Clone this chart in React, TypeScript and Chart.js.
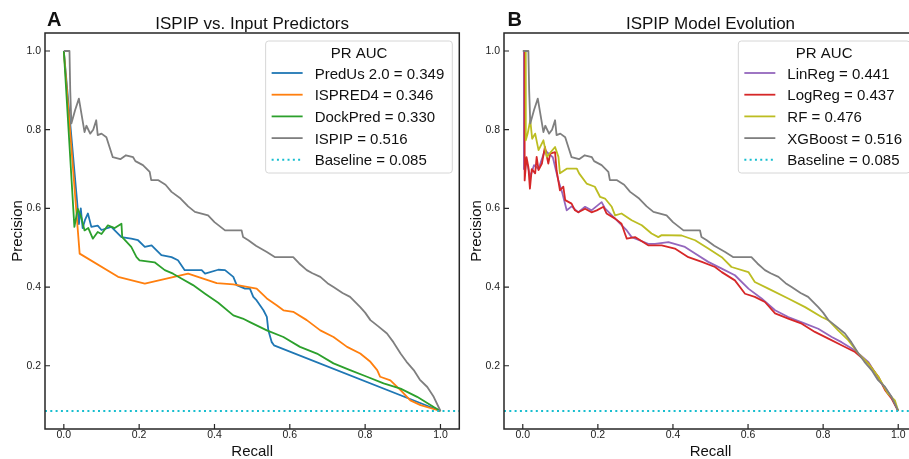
import React, { useEffect, useRef } from 'react';
import { Chart, registerables } from 'chart.js';

Chart.register(...registerables);

// ---------- axes ----------
const X_MIN = -0.05;
const X_MAX = 1.05;
const Y_MIN = 0.03925;
const Y_MAX = 1.04575;
const X_TICKS = [0, 0.2, 0.4, 0.6, 0.8, 1.0];
const Y_TICKS = [0.2, 0.4, 0.6, 0.8, 1.0];
const BASELINE = 0.085;

// ---------- panel A ----------
const predusRecall = [0, 0.035, 0.04, 0.045, 0.05, 0.056, 0.064, 0.073, 0.09, 0.1, 0.126, 0.153, 0.179, 0.197, 0.215, 0.233, 0.259, 0.286, 0.303, 0.321, 0.366, 0.375, 0.41, 0.428, 0.45, 0.459, 0.481, 0.494, 0.503, 0.512, 0.53, 0.539, 0.543, 0.552, 0.558, 1.0];
const predusPrecision = [1.0, 0.62, 0.56, 0.6, 0.55, 0.57, 0.587, 0.553, 0.556, 0.545, 0.553, 0.527, 0.523, 0.519, 0.502, 0.506, 0.481, 0.476, 0.468, 0.443, 0.443, 0.434, 0.444, 0.443, 0.426, 0.405, 0.396, 0.396, 0.375, 0.366, 0.341, 0.324, 0.29, 0.26, 0.252, 0.085];

const ispredRecall = [0, 0.042, 0.144, 0.215, 0.33, 0.406, 0.45, 0.512, 0.521, 0.539, 0.565, 0.583, 0.609, 0.645, 0.681, 0.716, 0.752, 0.787, 0.814, 0.832, 0.84, 0.867, 0.894, 0.92, 0.947, 1.0];
const ispredPrecision = [1.0, 0.485, 0.426, 0.409, 0.434, 0.41, 0.407, 0.396, 0.388, 0.371, 0.354, 0.341, 0.337, 0.316, 0.29, 0.273, 0.248, 0.231, 0.21, 0.189, 0.172, 0.163, 0.138, 0.112, 0.1, 0.085];

const dockRecall = [0, 0.028, 0.037, 0.046, 0.055, 0.065, 0.077, 0.09, 0.1, 0.117, 0.135, 0.153, 0.155, 0.179, 0.193, 0.201, 0.241, 0.268, 0.29, 0.312, 0.343, 0.375, 0.41, 0.45, 0.475, 0.494, 0.539, 0.583, 0.627, 0.672, 0.716, 0.76, 0.805, 0.849, 0.894, 0.938, 0.982, 1.0];
const dockPrecision = [1.0, 0.553, 0.599, 0.578, 0.544, 0.55, 0.523, 0.54, 0.535, 0.557, 0.55, 0.561, 0.527, 0.502, 0.476, 0.468, 0.463, 0.443, 0.434, 0.422, 0.405, 0.383, 0.36, 0.328, 0.32, 0.311, 0.29, 0.273, 0.248, 0.231, 0.206, 0.189, 0.172, 0.155, 0.142, 0.121, 0.095, 0.085];

const ispipRecall = [0, 0.015, 0.017, 0.02, 0.03, 0.04, 0.055, 0.06, 0.07, 0.078, 0.086, 0.09, 0.1, 0.113, 0.13, 0.15, 0.165, 0.184, 0.19, 0.21, 0.228, 0.232, 0.25, 0.27, 0.286, 0.31, 0.33, 0.348, 0.383, 0.4, 0.428, 0.441, 0.472, 0.476, 0.49, 0.51, 0.539, 0.561, 0.583, 0.609, 0.625, 0.645, 0.66, 0.681, 0.7, 0.716, 0.74, 0.76, 0.787, 0.8, 0.814, 0.835, 0.858, 0.875, 0.894, 0.91, 0.929, 0.945, 0.965, 0.982, 1.0];
const ispipPrecision = [1.0, 1.0, 0.9, 0.816, 0.85, 0.879, 0.794, 0.81, 0.79, 0.8, 0.824, 0.786, 0.79, 0.781, 0.73, 0.725, 0.735, 0.73, 0.72, 0.71, 0.693, 0.672, 0.672, 0.66, 0.642, 0.625, 0.605, 0.591, 0.582, 0.565, 0.544, 0.544, 0.544, 0.527, 0.519, 0.505, 0.489, 0.476, 0.476, 0.476, 0.46, 0.443, 0.435, 0.426, 0.41, 0.4, 0.385, 0.375, 0.349, 0.335, 0.316, 0.3, 0.282, 0.26, 0.231, 0.21, 0.189, 0.165, 0.146, 0.121, 0.085];

// ---------- panel B ----------
const linRecall = [0.003, 0.003, 0.01, 0.02, 0.03, 0.042, 0.059, 0.068, 0.08, 0.095, 0.105, 0.117, 0.13, 0.148, 0.166, 0.183, 0.21, 0.219, 0.246, 0.277, 0.29, 0.334, 0.352, 0.388, 0.432, 0.459, 0.494, 0.53, 0.565, 0.601, 0.636, 0.672, 0.707, 0.752, 0.787, 0.823, 0.849, 0.885, 0.92, 0.956, 0.982, 1.0];
const linPrecision = [1.0, 0.7, 0.72, 0.68, 0.71, 0.7, 0.748, 0.74, 0.73, 0.67, 0.64, 0.595, 0.605, 0.59, 0.604, 0.595, 0.616, 0.6, 0.574, 0.544, 0.527, 0.51, 0.51, 0.514, 0.502, 0.485, 0.464, 0.447, 0.43, 0.396, 0.371, 0.341, 0.324, 0.307, 0.294, 0.273, 0.26, 0.239, 0.21, 0.155, 0.121, 0.085];

const logRecall = [0.005, 0.005, 0.01, 0.015, 0.019, 0.024, 0.033, 0.037, 0.042, 0.051, 0.059, 0.068, 0.073, 0.086, 0.09, 0.099, 0.108, 0.113, 0.13, 0.139, 0.148, 0.166, 0.183, 0.197, 0.215, 0.223, 0.246, 0.263, 0.272, 0.277, 0.299, 0.334, 0.37, 0.405, 0.441, 0.477, 0.512, 0.53, 0.565, 0.592, 0.618, 0.645, 0.672, 0.707, 0.743, 0.778, 0.814, 0.849, 0.885, 0.92, 0.947, 0.965, 0.982, 1.0];
const logPrecision = [1.0, 0.671, 0.73, 0.705, 0.65, 0.7, 0.689, 0.731, 0.697, 0.714, 0.756, 0.714, 0.739, 0.743, 0.697, 0.646, 0.655, 0.621, 0.612, 0.595, 0.59, 0.599, 0.59, 0.595, 0.604, 0.587, 0.574, 0.561, 0.536, 0.523, 0.527, 0.506, 0.506, 0.498, 0.476, 0.464, 0.451, 0.438, 0.417, 0.383, 0.375, 0.362, 0.333, 0.32, 0.307, 0.286, 0.269, 0.252, 0.235, 0.206, 0.172, 0.138, 0.117, 0.085];

const rfRecall = [0.008, 0.008, 0.013, 0.02, 0.025, 0.033, 0.042, 0.055, 0.064, 0.086, 0.095, 0.099, 0.117, 0.144, 0.15, 0.17, 0.192, 0.206, 0.219, 0.237, 0.246, 0.263, 0.29, 0.317, 0.343, 0.361, 0.37, 0.423, 0.459, 0.494, 0.53, 0.556, 0.601, 0.618, 0.654, 0.707, 0.752, 0.796, 0.814, 0.84, 0.867, 0.894, 0.92, 0.947, 0.973, 0.991, 1.0];
const rfPrecision = [1.0, 0.773, 0.79, 0.824, 0.777, 0.79, 0.748, 0.773, 0.731, 0.756, 0.731, 0.689, 0.701, 0.701, 0.689, 0.663, 0.655, 0.629, 0.625, 0.604, 0.582, 0.587, 0.57, 0.557, 0.536, 0.527, 0.532, 0.531, 0.519, 0.498, 0.476, 0.451, 0.438, 0.413, 0.396, 0.371, 0.349, 0.324, 0.316, 0.29, 0.265, 0.231, 0.206, 0.172, 0.129, 0.112, 0.085];

const xgbRecall = ispipRecall;
const xgbPrecision = ispipPrecision;

// ---------- labels ----------
const legendsA = ['PredUs 2.0 = 0.349', 'ISPRED4 = 0.346', 'DockPred = 0.330', 'ISPIP = 0.516', 'Baseline = 0.085'];
const legendsB = ['LinReg = 0.441', 'LogReg = 0.437', 'RF = 0.476', 'XGBoost = 0.516', 'Baseline = 0.085'];
const colorsA = ['#1f77b4', '#ff7f0e', '#2ca02c', '#7f7f7f', '#17becf'];
const colorsB = ['#9467bd', '#d62728', '#bcbd22', '#7f7f7f', '#17becf'];

const FONT = '"Liberation Sans", Arial, Helvetica, sans-serif';
const DOT = [2, 3.3];

function pts(r: number[], p: number[]) {
  return r.map((x, i) => ({ x, y: p[i] }));
}

function curve(label: string, r: number[], p: number[], color: string, order: number) {
  return {
    label,
    data: pts(r, p),
    borderColor: color,
    backgroundColor: color,
    borderWidth: 1.8,
    borderJoinStyle: 'round',
    pointRadius: 0,
    fill: false,
    tension: 0,
    order,
  };
}

function baselineSet(label: string) {
  return {
    label,
    data: [{ x: X_MIN, y: BASELINE }, { x: X_MAX, y: BASELINE }],
    borderColor: '#17becf',
    borderWidth: 2,
    borderDash: DOT,
    pointRadius: 0,
    fill: false,
    order: 0,
  };
}

const panelPlugin = {
  id: 'panel',
  afterDatasetsDraw(chart: any) {
    const o = chart.options.plugins.panel;
    const { ctx, chartArea: a, scales } = chart;
    ctx.save();
    // frame
    ctx.strokeStyle = '#262626';
    ctx.lineWidth = 1.5;
    ctx.setLineDash([]);
    ctx.strokeRect(a.left, a.top, a.right - a.left, a.bottom - a.top);
    // inward ticks
    ctx.lineWidth = 1.2;
    ctx.beginPath();
    for (const v of X_TICKS) {
      const px = scales.x.getPixelForValue(v);
      ctx.moveTo(px, a.bottom);
      ctx.lineTo(px, a.bottom - 5);
    }
    for (const v of Y_TICKS) {
      const py = scales.y.getPixelForValue(v);
      ctx.moveTo(a.left, py);
      ctx.lineTo(a.left + 5, py);
    }
    ctx.stroke();

    // title + letter
    ctx.fillStyle = '#111';
    ctx.textBaseline = 'alphabetic';
    ctx.font = `17px ${FONT}`;
    ctx.textAlign = 'center';
    ctx.fillText(o.title, (a.left + a.right) / 2, 29);
    ctx.font = `bold 20px ${FONT}`;
    ctx.textAlign = 'left';
    ctx.fillText(o.letter, a.left + o.letterDx, 25.5);

    // axis titles
    ctx.font = `15px ${FONT}`;
    ctx.textAlign = 'center';
    ctx.fillText('Recall', (a.left + a.right) / 2, 456);
    ctx.save();
    ctx.translate(a.left - 27.5, (a.top + a.bottom) / 2);
    ctx.rotate(-Math.PI / 2);
    ctx.textBaseline = 'middle';
    ctx.fillText('Precision', 0, 0);
    ctx.restore();

    // legend
    ctx.font = `15px ${FONT}`;
    const labels: string[] = o.labels;
    const colors: string[] = o.colors;
    const maxW = Math.max(...labels.map((l) => ctx.measureText(l).width));
    const bw = 49 + maxW + 8;
    const bh = 132;
    const bx = a.right - 7 - bw;
    const by = a.top + 8;
    ctx.beginPath();
    const r = 3;
    ctx.moveTo(bx + r, by);
    ctx.lineTo(bx + bw - r, by);
    ctx.arcTo(bx + bw, by, bx + bw, by + r, r);
    ctx.lineTo(bx + bw, by + bh - r);
    ctx.arcTo(bx + bw, by + bh, bx + bw - r, by + bh, r);
    ctx.lineTo(bx + r, by + bh);
    ctx.arcTo(bx, by + bh, bx, by + bh - r, r);
    ctx.lineTo(bx, by + r);
    ctx.arcTo(bx, by, bx + r, by, r);
    ctx.closePath();
    ctx.fillStyle = 'rgba(255,255,255,0.85)';
    ctx.fill();
    ctx.strokeStyle = '#d6d6d6';
    ctx.lineWidth = 1;
    ctx.stroke();

    ctx.fillStyle = '#111';
    ctx.textAlign = 'center';
    ctx.fillText('PR AUC', bx + bw / 2, by + 16.5);
    ctx.textAlign = 'left';
    labels.forEach((lab, i) => {
      const base = by + 37.5 + i * 21.7;
      const ly = base - 5.5;
      ctx.beginPath();
      ctx.strokeStyle = colors[i];
      const dotted = i === labels.length - 1;
      ctx.lineWidth = dotted ? 2 : 1.8;
      ctx.setLineDash(dotted ? DOT : []);
      ctx.moveTo(bx + 6, ly);
      ctx.lineTo(bx + 37, ly);
      ctx.stroke();
      ctx.setLineDash([]);
      ctx.fillStyle = '#111';
      ctx.fillText(lab, bx + 49, base);
    });
    ctx.restore();
  },
};

function makeConfig(datasets: any[], opts: { title: string; letter: string; letterDx: number; labels: string[]; colors: string[]; yWidth: number; padRight: number }) {
  const tickFont = { family: FONT, size: 10.5 };
  return {
    type: 'line',
    data: { datasets },
    options: {
      responsive: false,
      animation: false,
      events: [],
      layout: { padding: { left: 0, top: 33, right: opts.padRight, bottom: 0 } },
      plugins: {
        legend: { display: false },
        tooltip: { enabled: false },
        title: { display: false },
        panel: { title: opts.title, letter: opts.letter, letterDx: opts.letterDx, labels: opts.labels, colors: opts.colors },
      },
      scales: {
        x: {
          type: 'linear',
          min: X_MIN,
          max: X_MAX,
          grid: { display: false, drawTicks: false, tickLength: 0 },
          border: { display: false },
          afterBuildTicks: (s: any) => {
            s.ticks = X_TICKS.map((v) => ({ value: v }));
          },
          afterFit: (s: any) => {
            s.height = 30;
          },
          ticks: {
            padding: 0,
            font: tickFont,
            color: '#222',
            autoSkip: false,
            maxRotation: 0,
            callback: (v: any) => Number(v).toFixed(1),
          },
        },
        y: {
          type: 'linear',
          min: Y_MIN,
          max: Y_MAX,
          grid: { display: false, drawTicks: false, tickLength: 0 },
          border: { display: false },
          afterBuildTicks: (s: any) => {
            s.ticks = Y_TICKS.map((v) => ({ value: v }));
          },
          afterFit: (s: any) => {
            s.width = opts.yWidth;
          },
          ticks: {
            padding: 4,
            font: tickFont,
            color: '#222',
            autoSkip: false,
            callback: (v: any) => Number(v).toFixed(1),
          },
        },
      },
    },
    plugins: [panelPlugin],
  };
}

function configA() {
  return makeConfig(
    [
      curve(legendsA[0], predusRecall, predusPrecision, colorsA[0], 4),
      curve(legendsA[1], ispredRecall, ispredPrecision, colorsA[1], 3),
      curve(legendsA[2], dockRecall, dockPrecision, colorsA[2], 2),
      curve(legendsA[3], ispipRecall, ispipPrecision, colorsA[3], 1),
      baselineSet(legendsA[4]),
    ],
    { title: 'ISPIP vs. Input Predictors', letter: 'A', letterDx: 2, labels: legendsA, colors: colorsA, yWidth: 45, padRight: 2.7 }
  );
}

function configB() {
  return makeConfig(
    [
      curve(legendsB[0], linRecall, linPrecision, colorsB[0], 4),
      curve(legendsB[1], logRecall, logPrecision, colorsB[1], 3),
      curve(legendsB[2], rfRecall, rfPrecision, colorsB[2], 2),
      curve(legendsB[3], xgbRecall, xgbPrecision, colorsB[3], 1),
      baselineSet(legendsB[4]),
    ],
    { title: 'ISPIP Model Evolution', letter: 'B', letterDx: 3.5, labels: legendsB, colors: colorsB, yWidth: 42, padRight: 3 }
  );
}

function Panel({ make, left, width }: { make: () => any; left: number; width: number }) {
  const ref = useRef<HTMLCanvasElement>(null);
  useEffect(() => {
    const chart = new Chart(ref.current as HTMLCanvasElement, make() as any);
    return () => chart.destroy();
  }, []);
  return (
    <canvas
      ref={ref}
      width={width}
      height={459}
      style={{ position: 'absolute', left, top: 0, width, height: 459, display: 'block' }}
    />
  );
}

export default function App() {
  return (
    <div
      style={{
        position: 'fixed',
        left: 0,
        top: 0,
        width: 909,
        height: 459,
        overflow: 'hidden',
        background: '#ffffff',
      }}
    >
      <Panel make={configA} left={0} width={462} />
      <Panel make={configB} left={462} width={458} />
    </div>
  );
}
